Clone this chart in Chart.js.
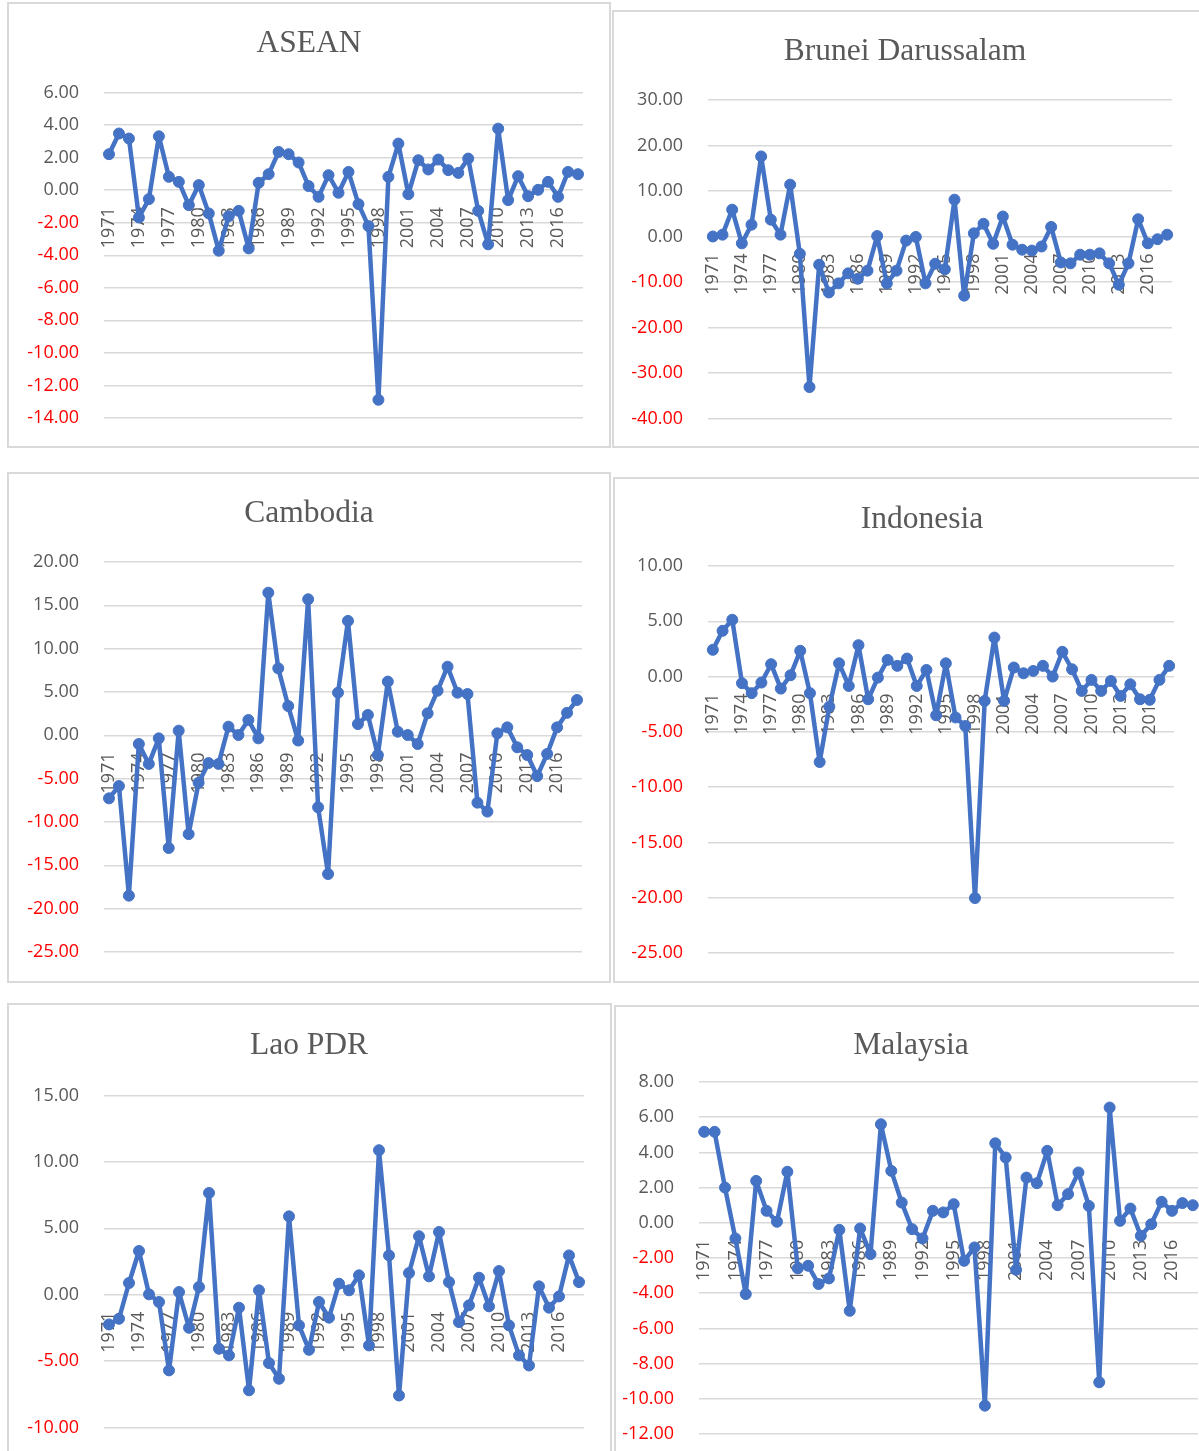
<!DOCTYPE html>
<html>
<head>
<meta charset="utf-8">
<script src="https://cdn.jsdelivr.net/npm/chart.js@4.4.0/dist/chart.umd.min.js"></script>
<style>
  html, body { margin: 0; padding: 0; background: #fff; }
  body { width: 1199px; height: 1451px; position: relative; overflow: hidden; }
  .box { position: absolute; border: 2px solid #d9d9d9; box-sizing: border-box; background: #fff; }
  canvas { position: absolute; }
</style>
</head>
<body>
<script>
// years on the category axis
const years = [1971, 1972, 1973, 1974, 1975, 1976, 1977, 1978, 1979, 1980,
  1981, 1982, 1983, 1984, 1985, 1986, 1987, 1988, 1989, 1990,
  1991, 1992, 1993, 1994, 1995, 1996, 1997, 1998, 1999, 2000,
  2001, 2002, 2003, 2004, 2005, 2006, 2007, 2008, 2009, 2010,
  2011, 2012, 2013, 2014, 2015, 2016, 2017, 2018];

// series values
const asean = [2.21, 3.48, 3.17, -1.68, -0.55, 3.31, 0.82, 0.51, -0.92, 0.31,
  -1.43, -3.72, -1.60, -1.27, -3.58, 0.45, 0.98, 2.35, 2.21, 1.70,
  0.25, -0.41, 0.92, -0.16, 1.12, -0.86, -2.21, -12.88, 0.82, 2.86,
  -0.25, 1.84, 1.27, 1.88, 1.23, 1.06, 1.94, -1.27, -3.33, 3.78,
  -0.61, 0.86, -0.37, 0.02, 0.51, -0.41, 1.12, 0.98];

const brunei = [0.0, 0.4, 5.9, -1.5, 2.6, 17.6, 3.7, 0.4, 11.4, -3.8,
  -33.1, -6.2, -12.3, -10.3, -8.1, -9.3, -7.5, 0.1, -10.3, -7.5,
  -0.9, -0.1, -10.3, -6.0, -7.2, 8.1, -13.0, 0.7, 2.8, -1.6,
  4.4, -1.8, -2.9, -3.1, -2.2, 2.1, -5.7, -5.9, -4.0, -4.0,
  -3.7, -5.9, -10.6, -5.9, 3.8, -1.5, -0.6, 0.4];

const cambodia = [-7.27, -5.85, -18.5, -1.0, -3.3, -0.35, -13.0, 0.54, -11.4, -5.46,
  -3.2, -3.3, 1.0, 0.04, 1.77, -0.35, 16.46, 7.73, 3.38, -0.6,
  15.7, -8.3, -16.0, 4.92, 13.2, 1.3, 2.35, -2.27, 6.2, 0.42,
  0.04, -1.0, 2.54, 5.15, 7.92, 4.92, 4.77, -7.77, -8.8, 0.23,
  0.92, -1.38, -2.27, -4.7, -2.15, 0.92, 2.6, 4.08];

const indonesia = [2.42, 4.14, 5.14, -0.6, -1.5, -0.54, 1.12, -1.09, 0.12, 2.33,
  -1.5, -7.73, -2.72, 1.2, -0.85, 2.84, -2.05, -0.09, 1.51, 0.97,
  1.63, -0.85, 0.6, -3.5, 1.2, -3.7, -4.47, -20.03, -2.2, 3.53,
  -2.2, 0.82, 0.3, 0.51, 0.97, 0.0, 2.24, 0.66, -1.3, -0.3,
  -1.3, -0.4, -1.75, -0.7, -2.05, -2.1, -0.3, 0.97];

const lao = [-2.24, -1.81, 0.88, 3.29, 0.03, -0.55, -5.7, 0.2, -2.49, 0.58,
  7.66, -4.07, -4.57, -0.98, -7.2, 0.33, -5.15, -6.33, 5.9, -2.31,
  -4.15, -0.55, -1.73, 0.83, 0.33, 1.46, -3.82, 10.88, 2.96, -7.59,
  1.63, 4.4, 1.38, 4.72, 0.95, -2.06, -0.8, 1.28, -0.88, 1.78,
  -2.31, -4.57, -5.33, 0.63, -0.98, -0.13, 2.96, 0.95];

const malaysia = [5.17, 5.17, 2.0, -0.89, -4.05, 2.38, 0.68, 0.06, 2.9, -2.59,
  -2.44, -3.48, -3.16, -0.4, -5.0, -0.32, -1.78, 5.6, 2.95, 1.15,
  -0.36, -0.89, 0.68, 0.59, 1.06, -2.16, -1.4, -10.39, 4.52, 3.71,
  -2.67, 2.57, 2.25, 4.09, 1.0, 1.63, 2.86, 0.96, -9.06, 6.55,
  0.11, 0.81, -0.74, -0.08, 1.19, 0.68, 1.12, 1.0];

// value axis: min, max, step
const aseanAxis = [-14, 6, 2];
const bruneiAxis = [-40, 30, 10];
const cambodiaAxis = [-25, 20, 5];
const indonesiaAxis = [-25, 10, 5];
const laoAxis = [-10, 15, 5];
const malaysiaAxis = [-12, 8, 2];

// panel frames on the page: box edges, plot area, title centre
const panels = [
  { title: 'ASEAN', data: asean, axis: aseanAxis,
    box: [7, 2, 611, 448], area: [104, 583, 92.5, 418], tc: [309, 44] },
  { title: 'Brunei Darussalam', data: brunei, axis: bruneiAxis,
    box: [612, 10, 1206, 448], area: [708, 1172, 100, 418.5], tc: [905, 52] },
  { title: 'Cambodia', data: cambodia, axis: cambodiaAxis,
    box: [7, 472, 611, 983], area: [104, 582, 562, 952], tc: [309, 514] },
  { title: 'Indonesia', data: indonesia, axis: indonesiaAxis,
    box: [613, 477, 1240, 983], area: [708, 1174, 566, 953], tc: [922, 520] },
  { title: 'Lao PDR', data: lao, axis: laoAxis,
    box: [7, 1003, 612, 1490], area: [104, 584, 1095.5, 1427.5], tc: [309, 1046] },
  { title: 'Malaysia', data: malaysia, axis: malaysiaAxis,
    box: [614, 1005, 1240, 1490], area: [699, 1198, 1082, 1434], tc: [911, 1046] }
];

const TITLE_SIZE = 31.5;
const TITLE_LH = TITLE_SIZE * 1.2;

panels.forEach(p => {
  const [bl, bt, br, bb] = p.box;
  const div = document.createElement('div');
  div.className = 'box';
  div.style.left = bl + 'px';
  div.style.top = bt + 'px';
  div.style.width = (br - bl) + 'px';
  div.style.height = (bb - bt) + 'px';
  document.body.appendChild(div);

  // canvas is centred on the title so the title block (full width) lands right
  const cl = bl + 2, ct = bt + 2;
  const W = 2 * p.tc[0] - 2 * cl, H = bb - bt - 4;
  const cv = document.createElement('canvas');
  cv.width = W;
  cv.height = H;
  cv.style.left = cl + 'px';
  cv.style.top = ct + 'px';
  cv.style.width = W + 'px';
  cv.style.height = H + 'px';
  document.body.appendChild(cv);

  const al = p.area[0] - cl, ar = p.area[1] - cl;
  const at = p.area[2] - ct, ab = p.area[3] - ct;
  const tcy = p.tc[1] - ct;
  const yWidth = al;
  const rightWidth = W - ar;
  const padBottom = H - ab;

  new Chart(cv, {
    type: 'line',
    data: {
      labels: years,
      datasets: [{
        data: p.data,
        borderColor: '#4472C4',
        backgroundColor: '#4472C4',
        borderWidth: 4.5,
        pointRadius: 5.5,
        pointBorderWidth: 1,
        pointBackgroundColor: '#4472C4',
        pointBorderColor: '#4472C4',
        borderJoinStyle: 'round',
        borderCapStyle: 'round',
        tension: 0
      }]
    },
    options: {
      responsive: false,
      animation: false,
      devicePixelRatio: 1,
      layout: { padding: { left: 0, right: 0, top: 0, bottom: padBottom } },
      plugins: {
        legend: { display: false },
        tooltip: { enabled: false },
        title: {
          display: true,
          text: p.title,
          color: '#595959',
          font: { family: "'Liberation Serif', 'Times New Roman', serif", size: TITLE_SIZE, weight: 'normal', lineHeight: 1.2 },
          padding: { top: tcy - TITLE_LH / 2, bottom: at - tcy - TITLE_LH / 2 }
        }
      },
      scales: {
        x: {
          type: 'category',
          position: { y: 0 },
          offset: true,
          afterFit: s => { s.paddingLeft = 0; s.paddingRight = 0; },
          grid: { display: false, drawTicks: false },
          border: { display: false },
          ticks: {
            autoSkip: false,
            minRotation: 90,
            maxRotation: 90,
            padding: 17,
            color: '#595959',
            font: { family: "'Open Sans', sans-serif", size: 18 },
            callback: (v, i) => (i % 3 === 0 ? years[i] : '')
          }
        },
        y: {
          min: p.axis[0],
          max: p.axis[1],
          afterFit: s => { s.width = yWidth; s.paddingTop = 0; s.paddingBottom = 0; },
          grid: { color: '#d9d9d9', lineWidth: 1.5, drawTicks: false },
          border: { display: false },
          ticks: {
            stepSize: p.axis[2],
            padding: 25,
            font: { family: "'Open Sans', sans-serif", size: 18 },
            color: ctx => (ctx.tick && ctx.tick.value < 0 ? '#FF0000' : '#595959'),
            callback: v => Number(v).toFixed(2)
          }
        },
        // empty spacer on the right, keeps the plot narrower than the title block
        spacer: {
          type: 'linear',
          position: 'right',
          afterFit: s => { s.width = rightWidth; s.paddingTop = 0; s.paddingBottom = 0; },
          grid: { display: false, drawTicks: false },
          border: { display: false },
          ticks: { display: false }
        }
      }
    }
  });
});
</script>
</body>
</html>
